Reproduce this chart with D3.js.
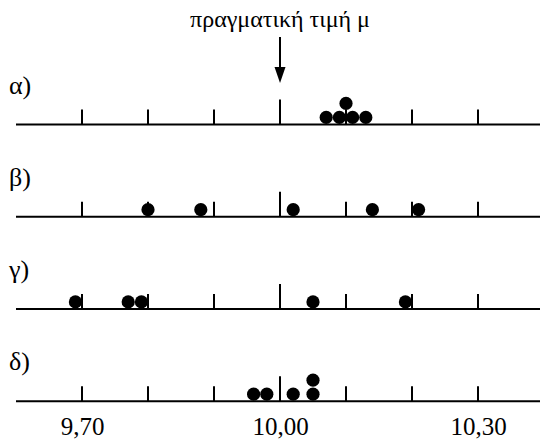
<!DOCTYPE html>
<html>
<head>
<meta charset="utf-8">
<script src="https://cdn.jsdelivr.net/npm/d3@7"></script>
<style>
  html, body { margin: 0; padding: 0; background: #fff; }
  svg { display: block; }
  .serif { font-family: "Times New Roman", "Liberation Serif", Tinos, serif !important; }
</style>
</head>
<body>
<svg id="chart" width="540" height="440" class="serif"></svg>
<script>
// ---- data ----
const rowLabels = ["α)", "β)", "γ)", "δ)"];
const seriesA = [10.07, 10.09, 10.11, 10.13, 10.10];
const seriesB = [9.80, 9.88, 10.02, 10.14, 10.21];
const seriesC = [9.69, 9.77, 9.79, 10.05, 10.19];
const seriesD = [9.96, 9.98, 10.02, 10.05, 10.05];
const tickValues = [9.70, 9.80, 9.90, 10.00, 10.10, 10.20, 10.30];
const labelValues = [9.70, 10.00, 10.30];
const trueValue = 10.00;
const titleText = "πραγματική τιμή μ";
const lineExtent = [9.60, 10.40];

// ---- layout ----
const svg = d3.select("#chart");
const x = d3.scaleLinear().domain([9.70, 10.30]).range([82, 478]);
const rows = [seriesA, seriesB, seriesC, seriesD];
const y = d3.scalePoint().domain(d3.range(rows.length)).range([124.5, 401.3]);
const r = 6.6;
const stackStep = 14;
const tickH = 15, tallTickH = 25;
const locale = d3.formatLocale({decimal: ",", thousands: ".", grouping: [3], currency: ["", "€"]});
const fmt = locale.format(".2f");

// title and arrow
svg.append("text")
  .attr("class", "serif")
  .attr("font-size", 24)
  .attr("x", x(trueValue)).attr("y", 27)
  .attr("text-anchor", "middle")
  .text(titleText);

svg.append("line")
  .attr("x1", x(trueValue)).attr("x2", x(trueValue))
  .attr("y1", 37).attr("y2", 70)
  .attr("stroke", "#000").attr("stroke-width", 2);
svg.append("path")
  .attr("d", d3.line()([[x(trueValue) - 5.5, 67], [x(trueValue) + 5.5, 67], [x(trueValue), 83]]) + "Z")
  .attr("fill", "#000");

// stacking: a dot sits one level above any earlier dot that is too close
function stackLevels(vals) {
  const levels = [];
  vals.forEach((v, i) => {
    let lvl = 0;
    for (let j = 0; j < i; j++) {
      if (Math.abs(vals[j] - v) < 0.012) lvl = Math.max(lvl, levels[j] + 1);
    }
    levels.push(lvl);
  });
  return levels;
}

rows.forEach((vals, i) => {
  const g = svg.append("g").attr("transform", `translate(0,${y(i)})`);
  g.append("line")
    .attr("x1", x(lineExtent[0])).attr("x2", x(lineExtent[1]))
    .attr("y1", 0).attr("y2", 0)
    .attr("stroke", "#000").attr("stroke-width", 2);
  g.selectAll("line.tick").data(tickValues).join("line")
    .attr("class", "tick")
    .attr("x1", d => x(d)).attr("x2", d => x(d))
    .attr("y1", 0).attr("y2", d => Math.abs(d - trueValue) < 1e-9 ? -tallTickH : -tickH)
    .attr("stroke", "#000").attr("stroke-width", 2);
  g.append("text")
    .attr("class", "serif")
    .attr("font-size", 26)
    .attr("x", 9).attr("y", -31)
    .text(rowLabels[i]);
  const levels = stackLevels(vals);
  g.selectAll("circle").data(vals).join("circle")
    .attr("cx", d => x(d))
    .attr("cy", (d, k) => -r - 0.5 - levels[k] * stackStep)
    .attr("r", r)
    .attr("fill", "#000");
});

// bottom tick labels
const axis = d3.axisBottom(x).tickValues(labelValues).tickSize(0).tickPadding(0).tickFormat(fmt);
const ag = svg.append("g").attr("transform", `translate(0,${y(rows.length - 1)})`).call(axis);
ag.select(".domain").remove();
ag.attr("font-family", null).attr("font-size", 25);
ag.selectAll("text")
  .attr("class", "serif")
  .attr("fill", "#000")
  .attr("dy", null)
  .attr("y", 34);
</script>
</body>
</html>
